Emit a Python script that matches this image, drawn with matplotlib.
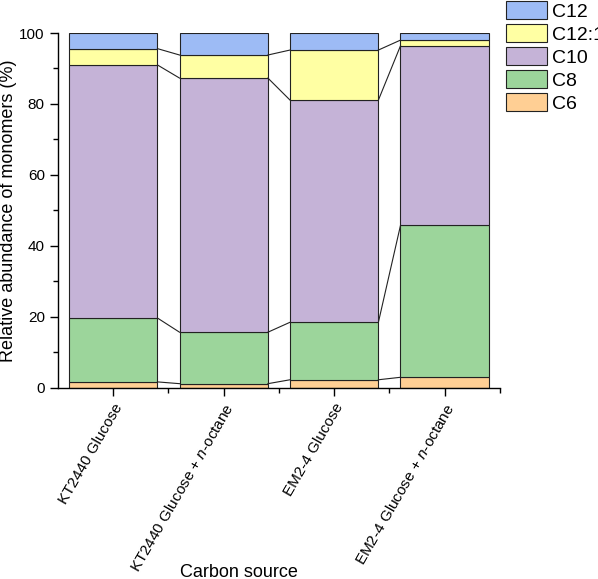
import matplotlib.pyplot as plt
import numpy as np

plt.rcParams['font.family'] = ['Liberation Sans', 'DejaVu Sans']
plt.rcParams['mathtext.fontset'] = 'custom'
plt.rcParams['mathtext.rm'] = 'Liberation Sans'
plt.rcParams['mathtext.it'] = 'Liberation Sans:italic'

categories = ['KT2440 Glucose', 'KT2440 Glucose + $\\it{n}$-octane',
              'EM2-4 Glucose', 'EM2-4 Glucose + $\\it{n}$-octane']
series = ['C6', 'C8', 'C10', 'C12:1', 'C12']
c6 = [1.7, 1.2, 2.3, 3.0]
c8 = [18.0, 14.5, 16.2, 42.8]
c10 = [71.3, 71.6, 62.6, 50.6]
c12_1 = [4.6, 6.5, 14.1, 1.6]
c12 = [4.4, 6.2, 4.8, 2.0]
colors = ['#FFCF94', '#9CD59B', '#C5B3D7', '#FFFFA3', '#9DBBF5']

values = np.array([c6, c8, c10, c12_1, c12])
x = np.arange(1, len(categories) + 1)
width = 0.8

fig = plt.figure(figsize=(5.98, 5.79), dpi=100)
ax = fig.add_axes([0.097, 0.330, 0.739, 0.613])

bottom = np.zeros(len(categories))
handles = []
for vals, name, col in zip(values, series, colors):
    h = ax.bar(x, vals, width, bottom=bottom, color=col, edgecolor='#222222',
               linewidth=0.8, label=name, zorder=2)
    handles.append(h)
    bottom = bottom + vals
    if name != 'C12':
        # connecting lines between neighbouring bars
        for i in range(len(x) - 1):
            ax.plot([x[i] + width / 2, x[i + 1] - width / 2],
                    [bottom[i], bottom[i + 1]], color='#222222', lw=0.8, zorder=3)

ax.set_xlim(0.5, 4.5)
ax.set_ylim(0, 100)
ax.set_xticks(x)
ax.set_xticklabels(categories, rotation=60, ha='right', rotation_mode='anchor', fontsize=11)
ax.set_xticks([1.5, 2.5, 3.5, 4.5], minor=True)
ax.set_yticks(np.arange(0, 101, 20))
ax.set_yticks(np.arange(0, 101, 10), minor=True)
ax.tick_params(axis='y', labelsize=11)
ax.tick_params(which='major', direction='out', length=6, width=1)
ax.tick_params(which='minor', direction='out', length=3.5, width=1)
for s in ['top', 'right']:
    ax.spines[s].set_visible(False)
for s in ['left', 'bottom']:
    ax.spines[s].set_linewidth(1)

ax.set_ylabel('Relative abundance of monomers (%)', fontsize=13)
ax.yaxis.set_label_coords(-0.093, 0.5)
ax.set_xlabel('Carbon source', fontsize=13)
ax.xaxis.set_label_coords(0.41, -0.497)

fig.legend(handles[::-1], series[::-1], loc='upper left',
           bbox_to_anchor=(0.846, 0.998), frameon=False, fontsize=14,
           handlelength=2.1, handleheight=1.05, handletextpad=0.25,
           labelspacing=0.17, borderpad=0.0, borderaxespad=0)

fig.savefig('out.png', dpi=100)
